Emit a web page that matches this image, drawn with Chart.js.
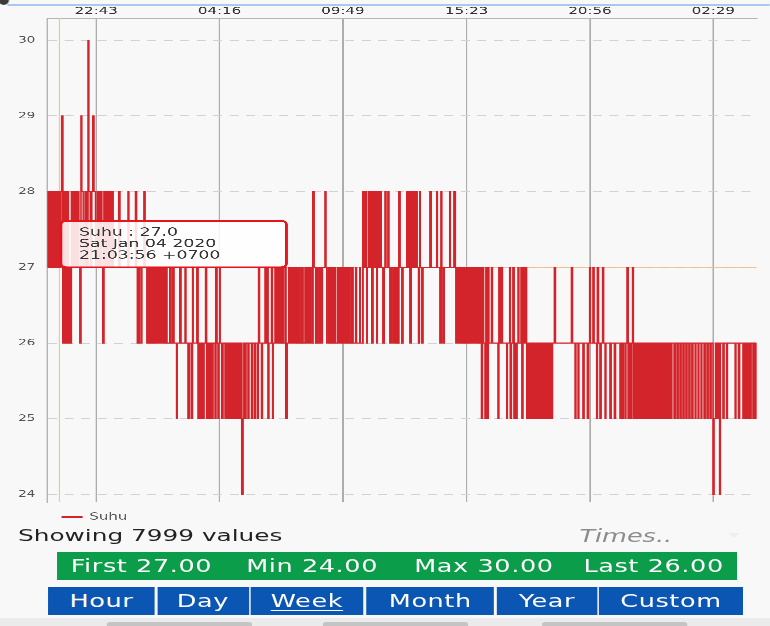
<!DOCTYPE html>
<html>
<head>
<meta charset="utf-8">
<script src="https://cdn.jsdelivr.net/npm/chart.js@4.4.1/dist/chart.umd.min.js"></script>
<style>
  html, body { margin: 0; padding: 0; background: #f8f8f8; overflow: hidden; }
  body { width: 770px; height: 626px; position: relative; font-family: "DejaVu Sans", sans-serif; }
  /* the screenshot is stretched sideways, so everything is laid out narrow and scaled */
  #layar { position: absolute; left: 0; top: 0; width: 513px; height: 626px; transform: scaleX(1.501); transform-origin: 0 0; }
  #grafik { position: absolute; left: 0; top: 0; }
  #bulat { position: absolute; left: -1.5px; top: -5px; width: 7px; height: 10px; border-radius: 50%; background: #3a3a3a; }
  #garisBiru { position: absolute; left: 5.3px; top: 4.3px; width: 508px; height: 1.5px; background: #a9c9ee; }
  #jumlah { position: absolute; left: 12px; top: 526px; font-size: 16.5px; line-height: 20px; color: #222; white-space: nowrap; }
  #waktu { position: absolute; left: 386px; top: 526px; font-size: 17px; line-height: 20px; font-style: italic; color: #8c8c8c; }
  #panah { position: absolute; left: 485px; top: 533px; width: 0; height: 0; border-left: 4px solid transparent; border-right: 4px solid transparent; border-top: 5px solid #efefef; }
  #ringkasan { position: absolute; left: 37.8px; top: 551.7px; width: 452.9px; height: 28.3px; background: #0b9d4a; }
  #ringkasan span { position: absolute; top: 0; line-height: 28.3px; font-size: 17px; letter-spacing: 0.4px; color: #fff; white-space: nowrap; }
  .tombol { position: absolute; top: 587.3px; height: 28px; line-height: 28px; background: #0b56b3; color: #fff; font-size: 17px; letter-spacing: 0.4px; text-align: center; }
  .tombol u { text-decoration-thickness: 1px; text-underline-offset: 3px; }
  #bawah { position: absolute; left: 0; top: 618px; width: 513px; height: 8px; background: #ebebeb; }
  .pil { position: absolute; top: 622px; width: 97px; height: 5px; border-radius: 3px; background: #c4c4c4; }
</style>
</head>
<body>
<div id="layar">
  <canvas id="grafik" width="513" height="532"></canvas>
  <div id="bulat"></div>
  <div id="garisBiru"></div>
  <div id="jumlah"></div>
  <div id="waktu">Times..</div>
  <div id="panah"></div>
  <div id="ringkasan">
    <span id="nFirst" style="left:9.3px"></span>
    <span id="nMin" style="left:126.2px"></span>
    <span id="nMax" style="left:238.2px"></span>
    <span id="nLast" style="left:350.9px"></span>
  </div>
  <div class="tombol" style="left:31.8px;width:71.5px">Hour</div>
  <div class="tombol" style="left:104.7px;width:61px">Day</div>
  <div class="tombol" style="left:166.7px;width:75.6px"><u>Week</u></div>
  <div class="tombol" style="left:244px;width:85.3px">Month</div>
  <div class="tombol" style="left:330.7px;width:67.3px">Year</div>
  <div class="tombol" style="left:399.3px;width:95.4px">Custom</div>
  <div id="bawah"></div>
  <div class="pil" style="left:70.7px"></div>
  <div class="pil" style="left:215.3px"></div>
  <div class="pil" style="left:361.3px"></div>
</div>
<script>
// suhu readings: [minutes since Jan 04 2020 00:00, value]
// 20:31 - 22:43
const seg1 = [[1231,27],[1232,28],[1234,27],[1237,28],[1241,27],[1245,28],[1247,27],[1250,28],[1253,27],[1256,28],[1260,27],[1262,28],[1263.93,27],[1268,28],[1270,29],[1273,26],[1276,28],[1278,26],[1281,28],[1283,26],[1286,28],[1288,26],[1291,27],[1293,26],[1296,28],[1300,27],[1304,28],[1308,27],[1312,28],[1316,27],[1319,26],[1322,29],[1324,28],[1328,27],[1333,28],[1337,27],[1341,30],[1343,28],[1347,27],[1351,28],[1354,29],[1357,28],[1361,27]];
// 22:43 - 04:16
const seg2 = [[1366,28],[1368,27],[1370,28],[1373,27],[1376,28],[1378,27],[1381,26],[1384,28],[1386,27],[1390,28],[1392,27],[1395,28],[1397,27],[1401,28],[1403,27],[1407,28],[1409,27],[1424,28],[1427,27],[1449,28],[1451,27],[1469,28],[1472,27],[1474,26],[1478,27],[1481,26],[1486,27],[1492,28],[1495,27],[1500,26],
  [1503,27],[1505,26],[1508,27],[1511,26],[1513,27],[1516,26],[1519,27],[1522,26],[1526,27],[1528,26],[1532,27],[1535,26],[1538,27],[1540,26],[1544,27],[1547,26],[1551,27],[1554,26],[1562,27],[1565,26],[1570,27],[1573,26],[1580,25],[1582,26],[1589,27],[1592,26],[1603,27],[1605,26],[1611,25],[1615,26],[1620,25],[1623,27],[1625,26],[1635,27],[1638,25],[1642,26],[1646,25],[1648,26],[1651,25],[1654,26],[1658,27],[1661,25],[1665,26],[1669,25],[1671,26],[1675,25],[1678,26],[1684,25],[1686,27],[1689,26],[1692,25],[1694,26]];
// 04:16 - 09:49
const seg3 = [[1696,27],[1698,26],[1702,25],[1705,26],[1711,25],[1713,26],[1716,25],[1719,26],[1721,25],[1724,26],[1727,25],[1729,26],[1732,25],[1735,26],[1738,25],[1740,26],[1743,25],[1746,26],[1748,25],[1752,26],[1756,24],[1759,25],[1762,26],[1765,25],[1767,26],[1773,25],[1775,26],[1782,25],[1785,26],[1790,25],[1793,26],[1798,25],[1801,27],[1804,26],[1809,25],[1812,26],
  [1819,27],[1821,26],[1824,27],[1827,25],[1829,26],[1836,27],[1839,25],[1841,26],[1846,27],[1848,26],[1852,27],[1855,26],[1859,27],[1862,26],[1866,27],[1868,26],[1873,27],[1875,25],[1879,26],[1883,27],[1886,26],[1890,27],[1893,26],[1897,27],[1900,26],[1904,27],[1906,26],[1910,27],[1913,26],[1918,27],[1921,26],[1927,27],[1929,26],[1933,27],[1936,26],[1940,27],[1943,26],[1948,28],[1951,27],[1955,26],[1959,27],[1962,26],[1967,27],[1970,26],[1974,27],[1981,28],[1983,27],[1986,26],[1991,27],[1994,26],[1999,27],[2002,26],[2006,27],[2009,26],[2014,27],[2017,26],[2021,27],[2024,26]];
// 09:49 - 15:23
const seg4 = [[2029,27],[2032,26],[2037,27],[2040,26],[2045,27],[2048,26],[2053,27],[2056,26],[2063,27],[2066,26],[2074,27],[2076,26],[2083,28],[2086,27],[2090,28],[2093,26],[2095,27],[2098,28],[2101,27],[2105,28],[2107,26],[2110,28],[2113,27],[2117,28],[2120,26],[2122,28],[2125,27],[2129,28],[2132,27],[2137,26],[2140,27],[2143,28],[2145,27],[2151,28],[2153,27],[2156,26],[2159,27],[2164,26],[2167,27],[2171,26],[2174,27],[2178,26],[2180,28],[2183,27],[2188,26],[2191,27],[2201,28],[2203,27],[2207,28],[2210,26],[2213,28],[2215,27],[2219,28],[2222,27],[2226,28],[2229,27],[2233,26],[2236,28],[2238,27],[2242,26],[2245,27],[2264,28],[2267,27],[2282,28],[2284,27],[2291,26],[2294,28],[2296,27],[2299,26],[2302,27],[2317,28],[2319,27],[2329,28],[2333,27],[2334,26],[2337,27],[2340,26],[2342,27],[2345,26],[2349,27],[2352,26],[2356,27],[2359,26]];
// 15:23 - 20:56
const seg5 = [[2363,27],[2365,26],[2368,27],[2371,26],[2373,27],[2376,26],[2379,27],[2381,26],[2384,27],[2387,26],[2390,27],[2392,26],[2395,27],[2398,26],[2400,27],[2403,25],[2406,27],[2409,26],[2413,25],[2415,27],[2418,25],[2421,27],[2423,26],[2430,27],[2433,26],[2448,25],[2450,27],[2453,26],[2457,27],[2460,26],[2471,25],[2473,26],[2479,27],[2481,25],[2484,26],[2488,27],[2491,25],[2494,26],[2496,25],[2499,26],[2502,27],[2504,26],[2510,27],[2512,25],[2515,27],[2518,26],[2522,27],[2525,25],[2527,26],
  [2531,25],[2534,26],[2538,25],[2541,26],[2545,25],[2548,26],[2552,25],[2554,26],[2558,25],[2561,26],[2565,25],[2568,26],[2572,25],[2575,26],[2579,25],[2581,26],[2585,25],[2588,26],[2592,25],[2595,26],[2600,27],[2603,26],[2646,27],[2649,26],[2656,25],[2658,26],[2664,25],[2666,26],[2677,25],[2680,26],[2689,25],[2692,26],[2695,27]];
// 20:56 - 04:30
const seg6 = [[2697,26],[2704,27],[2707,26],[2714,25],[2716,27],[2719,26],[2723,25],[2726,26],[2730,27],[2733,26],[2737,25],[2739,26],[2750,25],[2753,26],[2762,25],[2765,26],[2777,25],[2780,26],[2784,25],[2786,26],[2791,25],[2793,26],[2796,27],[2799,25],[2801,26],[2805,25],[2808,26],[2811,27],[2813,25],[2816,26],[2820,25],[2823,26],[2827,25],[2830,26],[2834,25],[2836,26],[2840,25],[2843,26],[2847,25],[2850,26],[2854,25],[2857,26],[2861,25],[2863,26],[2867,25],[2870,26],[2874,25],[2877,26],[2881,25],[2884,26],[2888,25],[2890,26],[2894,25],[2897,26],[2901,25],[2904,26],[2908,25],[2911,26],[2915,25],[2917,26],[2923,25],[2926,26],[2931,25],[2934,26],[2939,25],[2942,26],[2947,25],[2950,26],[2955,25],[2958,26],[2963,25],[2966,26],[2971,25],[2974,26],[2980,25],[2982,26],[2988,25],[2990,26],[2996,25],[2998,26],[3004,25],[3007,26],[3012,25],[3015,26],[3020,25],[3023,26],[3028,24],[3031,25],[3035,26],[3039,25],[3042,26],[3046,24],[3048,26],[3055,25],[3058,26],[3065,25],[3067,26],[3088,25],[3090,26],[3097,25],[3100,26],[3109,25],[3112,26],[3116,25],[3119,26],[3123,25],[3125,26],[3129,25],[3131,26],[3136,25],[3139,26],[3143,25],[3146,26]];

const jamTicks = [1363, 1696, 2029, 2363, 2696, 3029]; // 22:43 04:16 09:49 15:23 20:56 02:29
const suhuTicks = [24, 25, 26, 27, 28, 29, 30];
const menitTooltip = 1263.93; // Sat Jan 04 2020 21:03:56
const jumlahNilai = 7999;

const semua = seg1.concat(seg2, seg3, seg4, seg5, seg6);
const titik = semua.map(p => ({ x: p[0], y: p[1] }));
const nilai = semua.map(p => p[1]);

function dua(n) { return String(n).padStart(2, '0'); }
function jamMenit(m) { return dua(Math.floor(m / 60) % 24) + ':' + dua(Math.floor(m) % 60); }

document.getElementById('jumlah').textContent = 'Showing ' + jumlahNilai + ' values';
document.getElementById('nFirst').textContent = 'First ' + nilai[0].toFixed(2);
document.getElementById('nMin').textContent = 'Min ' + Math.min(...nilai).toFixed(2);
document.getElementById('nMax').textContent = 'Max ' + Math.max(...nilai).toFixed(2);
document.getElementById('nLast').textContent = 'Last ' + nilai[nilai.length - 1].toFixed(2);

// tooltip box sits just right of the point, its bottom on the point
Chart.Tooltip.positioners.nempel = function(items) {
  if (!items.length) return false;
  const el = items[0].element;
  return { x: el.x + 1 + 4, y: el.y };
};

// crosshair of the highlighted point
const garisSorot = {
  id: 'garisSorot',
  beforeDatasetsDraw(chart) {
    const act = chart.tooltip ? chart.tooltip.getActiveElements() : [];
    if (!act.length) return;
    const el = act[0].element;
    const a = chart.chartArea;
    const ctx = chart.ctx;
    ctx.save();
    ctx.strokeStyle = 'rgba(242,188,128,0.85)';
    ctx.lineWidth = 0.8;
    ctx.beginPath();
    ctx.moveTo(el.x, a.top); ctx.lineTo(el.x, a.bottom);
    ctx.moveTo(a.left, el.y); ctx.lineTo(a.right, el.y);
    ctx.stroke();
    ctx.restore();
  }
};

const grafik = new Chart(document.getElementById('grafik'), {
  type: 'line',
  data: {
    datasets: [{
      label: 'Suhu',
      data: titik,
      stepped: true,
      borderColor: '#d4242b',
      backgroundColor: '#d4242b',
      borderWidth: 1.05,
      pointRadius: 0,
      pointHoverRadius: 0,
      fill: false
    }]
  },
  options: {
    responsive: false,
    animation: false,
    devicePixelRatio: 3,
    events: [],
    layout: { padding: { left: 0, right: 8.9, top: 0, bottom: 0 } },
    scales: {
      x: {
        type: 'linear',
        position: 'top',
        min: 1231,
        max: 3146,
        afterBuildTicks: ax => { ax.ticks = jamTicks.map(v => ({ value: v })); },
        afterFit: ax => { ax.height = 18.3; },
        ticks: {
          autoSkip: false, maxRotation: 0, padding: 1, color: '#333',
          font: { family: 'DejaVu Sans', size: 10 },
          callback: v => jamMenit(v)
        },
        grid: { color: '#adadad', lineWidth: 1, drawTicks: false },
        border: { color: '#b5b5b5' }
      },
      y: {
        min: 23.9,
        max: 30.29,
        afterBuildTicks: ax => { ax.ticks = suhuTicks.map(v => ({ value: v })); },
        afterFit: ax => { ax.width = 31.5; },
        ticks: {
          padding: 8, color: '#555',
          font: { family: 'DejaVu Sans', size: 9 },
          callback: v => String(v)
        },
        grid: { color: '#d2d2d2', drawTicks: false },
        border: { color: '#b5b5b5', dash: [6, 5] }
      }
    },
    plugins: {
      legend: {
        position: 'bottom',
        align: 'start',
        fullSize: false,
        labels: {
          boxWidth: 13, boxHeight: 1, padding: 10, color: '#555',
          font: { family: 'DejaVu Sans', size: 10 }
        }
      },
      tooltip: {
        position: 'nempel',
        xAlign: 'left',
        yAlign: 'bottom',
        caretSize: 0,
        caretPadding: 0,
        backgroundColor: 'rgba(255,255,255,0.86)',
        borderColor: '#e8141c',
        borderWidth: 1.7,
        cornerRadius: 4,
        displayColors: false,
        bodyColor: '#333',
        bodyFont: { family: 'DejaVu Sans', size: 11.5, lineHeight: 1 },
        bodySpacing: 0,
        padding: { top: 6, bottom: 6, left: 12, right: 44 },
        callbacks: {
          title: () => [],
          label: ctx => {
            const m = ctx.parsed.x;
            const hari = Math.floor(m / 1440);
            const namaHari = ['Sat', 'Sun', 'Mon'][hari];
            const detik = Math.round((m - Math.floor(m)) * 60);
            return [
              ctx.dataset.label + ' : ' + ctx.parsed.y.toFixed(1),
              namaHari + ' Jan ' + dua(4 + hari) + ' 2020',
              jamMenit(m) + ':' + dua(detik) + ' +0700'
            ];
          }
        }
      }
    }
  },
  plugins: [garisSorot]
});

const idxTip = titik.findIndex(p => p.x === menitTooltip);
grafik.tooltip.setActiveElements([{ datasetIndex: 0, index: idxTip }], { x: 0, y: 0 });
grafik.draw();
</script>
</body>
</html>
